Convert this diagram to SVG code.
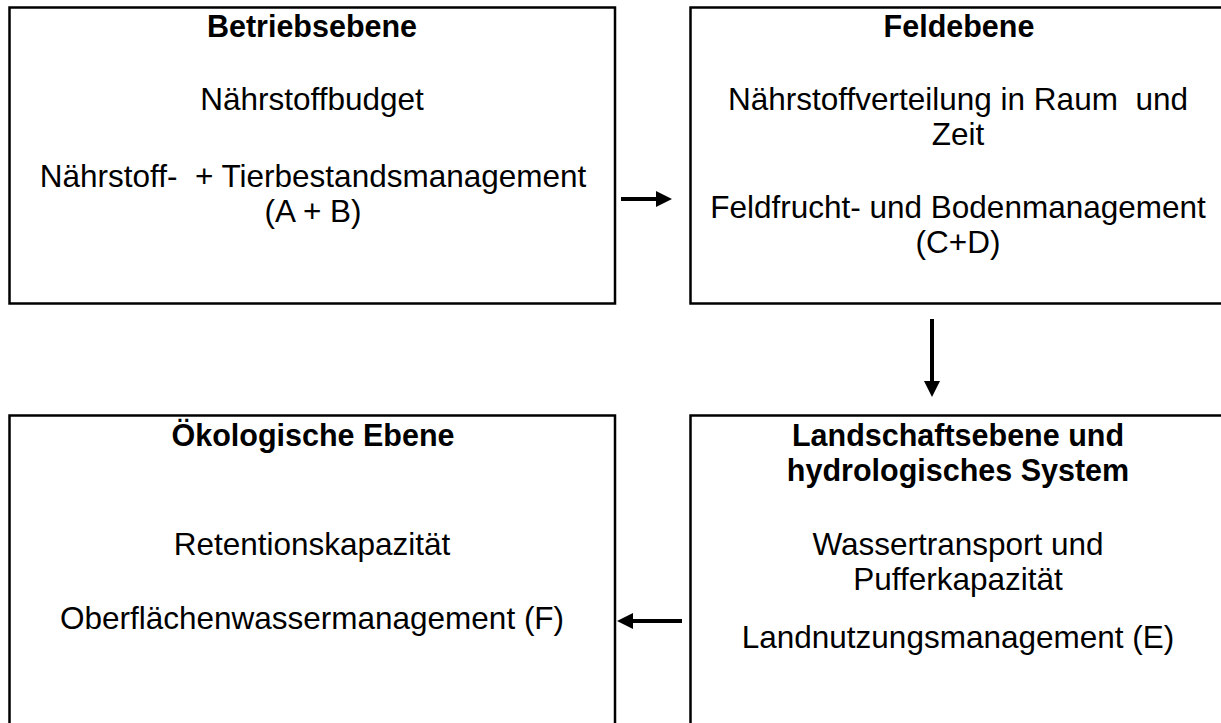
<svg xmlns="http://www.w3.org/2000/svg" width="1221" height="723" viewBox="0 0 1221 723">
  <style>
    .box { fill: #ffffff; stroke: #000000; stroke-width: 2.5; }
    .t { font-family: "Liberation Sans", Arial, sans-serif; font-size: 31.5px; fill: #000000; text-anchor: middle; white-space: pre; }
    .h { font-family: "Liberation Sans", Arial, sans-serif; font-size: 30.5px; font-weight: bold; fill: #000000; text-anchor: middle; white-space: pre; }
    .conn { stroke: #000000; stroke-width: 4; fill: none; }
  </style>
  <defs>
    <marker id="arrow" markerUnits="userSpaceOnUse" markerWidth="16" markerHeight="16" refX="0" refY="8" orient="auto" viewBox="0 0 16 16">
      <path d="M0,0 L16,8 L0,16 z" fill="#000000"/>
    </marker>
  </defs>
  <rect x="0" y="0" width="1221" height="723" fill="#ffffff"/>

  <g id="betriebsebene">
    <rect class="box" x="9.5" y="7.5" width="605.5" height="296"/>
    <text class="h" x="312" y="37">Betriebsebene</text>
    <text class="t" x="312" y="110">Nährstoffbudget</text>
    <text class="t" x="313" y="187">Nährstoff-  + Tierbestandsmanagement</text>
    <text class="t" x="313" y="222">(A + B)</text>
  </g>

  <g id="feldebene">
    <rect class="box" x="690.5" y="7.5" width="560" height="296"/>
    <text class="h" x="959" y="37">Feldebene</text>
    <text class="t" x="958" y="110">Nährstoffverteilung in Raum  und</text>
    <text class="t" x="958" y="145">Zeit</text>
    <text class="t" x="958" y="218">Feldfrucht- und Bodenmanagement</text>
    <text class="t" x="958" y="253">(C+D)</text>
  </g>

  <g id="oekologische-ebene">
    <rect class="box" x="9.5" y="415.5" width="605.5" height="330"/>
    <text class="h" x="313" y="446">Ökologische Ebene</text>
    <text class="t" x="312" y="555">Retentionskapazität</text>
    <text class="t" x="312" y="629">Oberflächenwassermanagement (F)</text>
  </g>

  <g id="landschaftsebene">
    <rect class="box" x="690.5" y="415.5" width="560" height="330"/>
    <text class="h" x="958" y="446">Landschaftsebene und</text>
    <text class="h" x="958" y="481">hydrologisches System</text>
    <text class="t" x="958" y="555">Wassertransport und</text>
    <text class="t" x="958" y="590">Pufferkapazität</text>
    <text class="t" x="958" y="648">Landnutzungsmanagement (E)</text>
  </g>

  <g id="connectors">
    <line class="conn" x1="621" y1="199" x2="656" y2="199" marker-end="url(#arrow)"/>
    <line class="conn" x1="932" y1="319" x2="932" y2="381" marker-end="url(#arrow)"/>
    <line class="conn" x1="682" y1="621" x2="633" y2="621" marker-end="url(#arrow)"/>
  </g>
</svg>
